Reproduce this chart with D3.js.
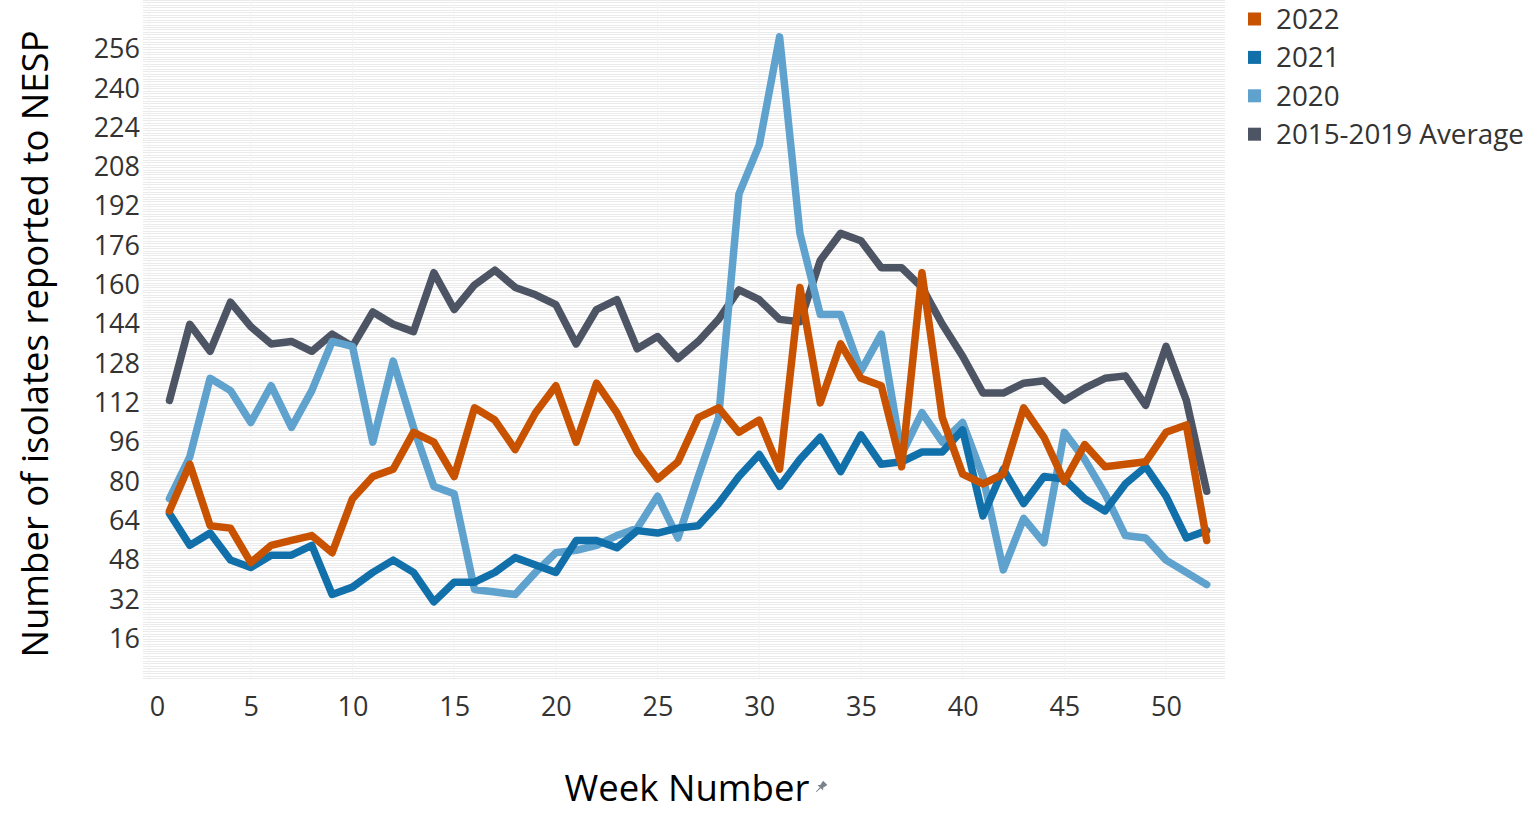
<!DOCTYPE html>
<html>
<head>
<meta charset="utf-8">
<title>Isolates reported to NESP by week</title>
<script src="https://cdn.jsdelivr.net/npm/d3@7"></script>
<style>
  body { margin: 0; background: #fff; }
  svg text { font-family: "Open Sans", "Noto Sans", sans-serif; }
</style>
</head>
<body>
<svg id="chart" width="1529" height="819"></svg>
<script>
// weekly counts
var weeks = d3.range(1, 53);

var avg1519 = [113, 144, 133, 153, 143, 136, 137, 133, 140, 135, 149, 144, 141, 165, 150,
  160, 166, 159, 156, 152, 136, 150, 154, 134, 139, 130, 137, 146, 158, 154, 146, 145, 170,
  181, 178, 167, 167, 159, 144, 131, 116, 116, 120, 121, 113, 118, 122, 123, 111, 135, 113, 76];

var y2020 = [73, 90, 122, 117, 104, 119, 102, 117, 137, 135, 96, 129, 102, 78, 75,
  36, 35, 34, 43, 51, 52, 54, 58, 61, 74, 57, 82, 106, 197, 217, 261, 181, 148,
  148, 125, 140, 91, 108, 96, 104, 82, 44, 65, 55, 100, 89, 75, 58, 57, 48, 43, 38];

var y2021 = [67, 54, 59, 48, 45, 50, 50, 54, 34, 37, 43, 48, 43, 31, 39,
  39, 43, 49, 46, 43, 56, 56, 53, 60, 59, 61, 62, 71, 82, 91, 78, 89, 98,
  84, 99, 87, 88, 92, 92, 101, 66, 85, 71, 82, 81, 73, 68, 79, 86, 74, 57, 60];

var y2022 = [68, 87, 62, 61, 47, 54, 56, 58, 51, 73, 82, 85, 100, 96, 82,
  110, 105, 93, 108, 119, 96, 120, 108, 92, 81, 88, 106, 110, 100, 105, 85, 159, 112,
  136, 122, 119, 86, 165, 106, 83, 79, 83, 110, 98, 80, 95, 86, 87, 88, 100, 103, 56];

var seriesNames = ["2022", "2021", "2020", "2015-2019 Average"];
var seriesValues = [y2022, y2021, y2020, avg1519];
var seriesColors = ["#c85200", "#1170aa", "#5fa2ce", "#4d5463"];

var yTicks = d3.range(16, 257, 16);
var xTicks = d3.range(0, 51, 5);

var svg = d3.select("#chart");

var plotLeft = 143, plotRight = 1225, plotTop = 0, plotBottom = 678;

var x = d3.scaleLinear().domain([-0.3, 52.9]).range([plotLeft, plotRight]);
var y = d3.scaleLinear().domain([0, 276]).range([plotBottom, plotTop]);

// dense light gridlines, one per unit like the original
svg.append("g")
  .selectAll("line")
  .data(d3.range(0, 277, 1))
  .enter()
  .append("line")
  .attr("x1", plotLeft)
  .attr("x2", plotRight)
  .attr("y1", function(d) { return Math.round(y(d)) + 0.5; })
  .attr("y2", function(d) { return Math.round(y(d)) + 0.5; })
  .attr("stroke", "#ebebeb")
  .attr("stroke-width", 1);

svg.append("g")
  .selectAll("line")
  .data(xTicks)
  .enter()
  .append("line")
  .attr("x1", function(d) { return x(d); })
  .attr("x2", function(d) { return x(d); })
  .attr("y1", plotTop)
  .attr("y2", plotBottom)
  .attr("stroke", "#f3f3f3")
  .attr("stroke-width", 1);

// axes
var yAxis = d3.axisLeft(y).tickValues(yTicks).tickSize(0).tickPadding(3);
var gy = svg.append("g").attr("transform", "translate(" + plotLeft + ",0)").call(yAxis);
gy.select(".domain").remove();
gy.selectAll("text")
  .attr("font-size", 27)
  .attr("fill", "#333")
  .attr("font-family", "Open Sans, sans-serif");

var xAxis = d3.axisBottom(x).tickValues(xTicks).tickSize(0).tickPadding(19);
var gx = svg.append("g").attr("transform", "translate(0," + plotBottom + ")").call(xAxis);
gx.select(".domain").remove();
gx.selectAll("text")
  .attr("font-size", 27)
  .attr("fill", "#333")
  .attr("font-family", "Open Sans, sans-serif")
  .attr("dx", function(d) { return d === 0 ? 8 : 0; });

// lines, drawn with average first so 2022 is on top
var line = d3.line()
  .x(function(d, i) { return x(weeks[i]); })
  .y(function(d) { return y(d); });

for (var s = seriesValues.length - 1; s >= 0; s--) {
  svg.append("path")
    .datum(seriesValues[s])
    .attr("d", line)
    .attr("fill", "none")
    .attr("stroke", seriesColors[s])
    .attr("stroke-width", 7.5)
    .attr("stroke-linejoin", "round")
    .attr("stroke-linecap", "round");
}

// titles
svg.append("text")
  .attr("transform", "translate(48,344) rotate(-90)")
  .attr("text-anchor", "middle")
  .attr("font-size", 36.5)
  .attr("fill", "#000")
  .text("Number of isolates reported to NESP");

svg.append("text")
  .attr("x", 687)
  .attr("y", 801)
  .attr("text-anchor", "middle")
  .attr("font-size", 36.5)
  .attr("fill", "#000")
  .text("Week Number");

// little pin mark after the axis title
svg.append("path")
  .attr("transform", "translate(821,787) rotate(45)")
  .attr("d", "M-3,-6 L3,-6 L2,-1 L4,1 L-4,1 L-2,-1 Z M-0.6,1 L0.6,1 L0.3,7 L-0.3,7 Z")
  .attr("fill", "#7a828c");

// legend
var legend = svg.append("g")
  .selectAll("g")
  .data(seriesNames)
  .enter()
  .append("g")
  .attr("transform", function(d, i) { return "translate(1248," + (19 + 38.4 * i) + ")"; });

legend.append("rect")
  .attr("x", 0)
  .attr("y", -6.5)
  .attr("width", 13)
  .attr("height", 13)
  .attr("fill", function(d, i) { return seriesColors[i]; });

legend.append("text")
  .attr("x", 28)
  .attr("y", 0)
  .attr("dy", "0.36em")
  .attr("font-size", 27.8)
  .attr("fill", "#333")
  .text(function(d) { return d; });
</script>
</body>
</html>
